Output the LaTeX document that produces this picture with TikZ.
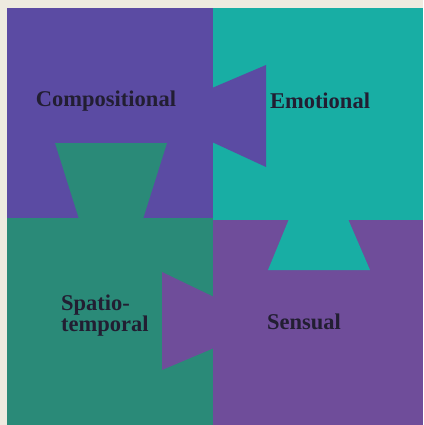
\documentclass[tikz,border=0pt]{standalone}
\usepackage{fontspec}
\setmainfont{Liberation Serif}
\usetikzlibrary{positioning}

\definecolor{paper}{RGB}{238,235,224}
\definecolor{violetA}{RGB}{91,75,163}
\definecolor{violetB}{RGB}{111,77,154}
\definecolor{tealA}{RGB}{24,174,164}
\definecolor{tealB}{RGB}{42,138,120}
\definecolor{ink}{RGB}{34,30,50}

\begin{document}
\begin{tikzpicture}[
    x=1pt, y=-1pt,
    lbl/.style={
        text=ink, font=\fontsize{22.5}{21}\selectfont\bfseries, inner sep=0pt
    },
    lbltwo/.style={
        lbl, align=left
    }
]

% PAPER (423 x 425)
\fill[paper] (0,0) rectangle (423,425);
\useasboundingbox (0,0) rectangle (423,425);

% QUADRANTS
\fill[violetA] (7,8) rectangle (213,218);
\fill[tealA] (213,8) rectangle (423,220);
\fill[tealB] (7,218) rectangle (213,425);
\fill[violetB] (213,220) rectangle (423,425);

% TABS
\fill[violetA] (212,88) -- (266,65) -- (266,167) -- (212,142) -- cycle;
\fill[tealB] (79,219) -- (55,143) -- (167,143) -- (143,219) -- cycle;
\fill[tealA] (289,219) -- (268,270) -- (370,270) -- (348,219) -- cycle;
\fill[violetB] (214,297) -- (162,272) -- (162,370) -- (214,348) -- cycle;

% LABELS
\node[lbl] (compositional) at (106,101) {Compositional};
\node[lbl] (emotional) at (320,101) {Emotional};
\node[lbltwo, anchor=west] (spatio) at (61,316) {Spatio-\\temporal};
\node[lbl] (sensual) at (304,322) {Sensual};

\end{tikzpicture}
\end{document}
